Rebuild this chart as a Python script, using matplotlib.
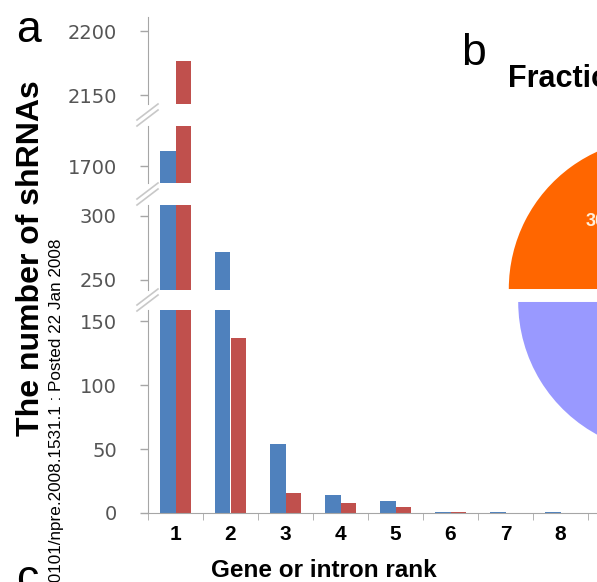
import numpy as np
import matplotlib.pyplot as plt
from matplotlib.lines import Line2D

plt.rcParams['font.family'] = ['Liberation Sans', 'DejaVu Sans']

# shRNA counts per gene / intron rank
ranks = np.arange(1, 9)
gene_counts = [1712, 272, 54, 14, 9, 1, 1, 1]
intron_counts = [2177, 137, 16, 8, 5, 1, 0, 0]

# broken y axis: value range and ticks of each piece, bottom to top
seg_ylims = [(0, 158.6), (242, 308.4), (1687, 1731.5), (2143, 2211)]
seg_ticks = [[0, 50, 100, 150], [250, 300], [1700], [2150, 2200]]

# pie of panel b
pie_fracs = [30, 70]
pie_colors = ['#FF6600', '#9999FF']

W, H = 597, 582
BLUE = '#4F81BD'
RED = '#C0504D'
GRAY = '#A6A6A6'


def box(x0, y0, x1, y1):
    # pixel box (top-left origin) -> figure fraction rect
    return [x0 / W, 1 - y1 / H, (x1 - x0) / W, (y1 - y0) / H]


fig = plt.figure(figsize=(W / 100, H / 100), dpi=100)

# pixel rows (top, bottom) of every axis piece
seg_rows = [(310, 513), (205, 290), (126, 183), (17, 104)]
ax_left, ax_right = 148, 698
bw = 0.28

axes = []
for i, (top, bot) in enumerate(seg_rows):
    ax = fig.add_axes(box(ax_left, top, ax_right, bot))
    ax.bar(ranks - bw / 2, gene_counts, bw, color=BLUE)
    ax.bar(ranks + bw / 2, intron_counts, bw, color=RED)
    ax.set_xlim(0.5, 10.5)
    ax.set_ylim(*seg_ylims[i])
    ax.set_yticks(seg_ticks[i])
    ax.patch.set_visible(False)
    for s in ['top', 'right', 'bottom']:
        ax.spines[s].set_visible(False)
    ax.spines['left'].set_color(GRAY)
    ax.tick_params(axis='y', length=6, width=1, color=GRAY, pad=16.5,
                   labelsize=14, labelcolor='#555555')
    for lab in ax.get_yticklabels():
        lab.set_family('DejaVu Sans')
    if i == 0:
        ax.spines['bottom'].set_visible(True)
        ax.spines['bottom'].set_color(GRAY)
        ax.set_xticks(ranks)
        ax.set_xticklabels([str(r) for r in ranks], fontsize=15,
                           fontweight='bold')
        ax.set_xticks(np.arange(0.5, 11, 1), minor=True)
        ax.tick_params(axis='x', which='major', length=0, pad=8.6)
        ax.tick_params(axis='x', which='minor', length=5, color=GRAY)
    else:
        ax.set_xticks([])
    axes.append(ax)

# break marks between the axis pieces
for cy in [115, 194, 300]:
    for d in (-3, 3):
        fig.add_artist(Line2D([137 / W, 158 / W],
                              [1 - (cy + 8 + d) / H, 1 - (cy - 8 + d) / H],
                              color='#C8C8C8', lw=1.2))

fig.text(31 / W, 1 - 258 / H, 'The number of shRNAs', rotation=90,
         ha='center', va='center', fontsize=23, fontweight='bold')
fig.text(324 / W, 1 - 577 / H, 'Gene or intron rank', ha='center',
         va='baseline', fontsize=17.5, fontweight='bold')
fig.text(57 / W, 1 - 238 / H,
         'Nature Precedings : hdl:10101/npre.2008.1531.1 : Posted 22 Jan 2008',
         rotation=90, ha='center', va='top', fontsize=12.3)

# panel letters
fig.text(16 / W, 1 - 42 / H, 'a', fontsize=32, va='baseline')
fig.text(461 / W, 1 - 65 / H, 'b', fontsize=32, va='baseline')
fig.text(16 / W, 1 - 591 / H, 'c', fontsize=32, va='baseline')

fig.text(508 / W, 1 - 87 / H, 'Fraction of shRNAs', fontsize=22,
         fontweight='bold', va='baseline')

# panel b pie
cx, cy, R = 664.5, 295.5, 151
half = 1.3 * R
pax = fig.add_axes(box(cx - half, cy - half, cx + half, cy + half))
pax.pie(pie_fracs, colors=pie_colors, startangle=72, counterclock=True,
        explode=[0.053, 0.053], autopct='%.1f%%', pctdistance=0.55,
        textprops=dict(color='#FFF0DC', fontsize=13, fontweight='bold'))
pax.set_xlim(-1.3, 1.3)
pax.set_ylim(-1.3, 1.3)
pax.set_aspect('equal')
pax.axis('off')

fig.savefig('out.png', dpi=100)
